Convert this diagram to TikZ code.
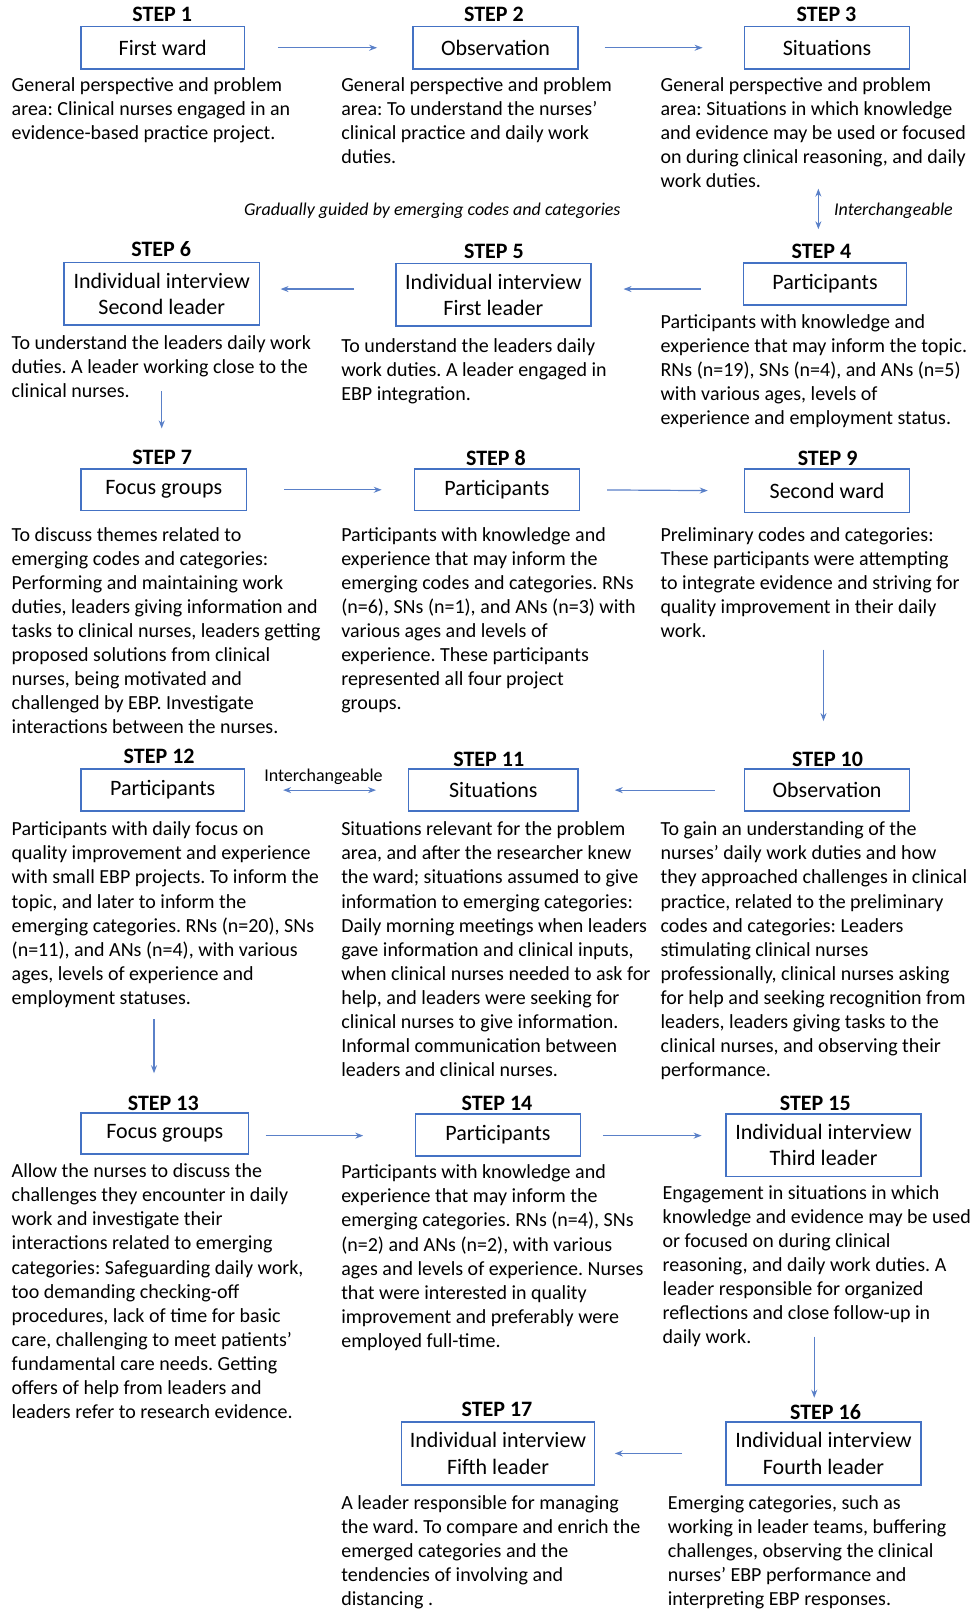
\documentclass[tikz,border=0pt]{standalone}
\usepackage{fontspec}
\setmainfont{Carlito}
\frenchspacing
\usetikzlibrary{arrows.meta}
\definecolor{stepblue}{RGB}{68,114,196}
\definecolor{flowblue}{RGB}{90,128,200}
\newlength\dpx
\setlength\dpx{0.5132pt}
\tikzset{
  stepbox/.style={draw=stepblue, line width=0.75pt, minimum width=161\dpx, minimum height=41\dpx, inner sep=1pt, align=center, font=\fontsize{11}{13}\selectfont},
  leaderbox/.style={stepbox, minimum width=190\dpx, minimum height=61\dpx},
  steplabel/.style={font=\bfseries\fontsize{11}{13}\selectfont, inner sep=0pt},
  desc/.style={anchor=north west, inner sep=0pt, align=left, font=\fontsize{10}{12.05}\selectfont},
  note/.style={font=\fontsize{9}{11}\selectfont, inner sep=0pt},
  flow/.style={draw=flowblue, line width=0.6pt, -{Stealth[length=4pt,width=3pt]}},
}

\begin{document}
\begin{tikzpicture}[x=\dpx, y=-\dpx]
\useasboundingbox (0,0) rectangle (948,1568);
\coordinate (r2) at (0,281.5);
\coordinate (r5) at (0,1106);

% Step 1
\node[steplabel] (l1) at (158,14) {STEP 1};
\node[stepbox, minimum width=159\dpx] (s1) at (158.5,46.5) {First ward};
\node[desc] (d1) at (11,75) {General perspective and problem\\area: Clinical nurses engaged in an\\evidence-based practice project.};

% Step 2
\node[steplabel] (l2) at (481,14) {STEP 2};
\node[stepbox] (s2) at (482.5,46.5) {Observation};
\node[desc] (d2) at (332,75) {General perspective and problem\\area: To understand the nurses’\\clinical practice and daily work\\duties.};

% Step 3
\node[steplabel] (l3) at (805,14) {STEP 3};
\node[stepbox] (s3) at (805.5,46.5) {Situations};
\node[desc] (d3) at (643,75) {General perspective and problem\\area: Situations in which knowledge\\and evidence may be used or focused\\on during clinical reasoning, and daily\\work duties.};

\node[note, font=\itshape\fontsize{9}{11}\selectfont] (gradual) at (421,205) {Gradually guided by emerging codes and categories};
\node[note, font=\itshape\fontsize{9}{11}\selectfont, anchor=west] (swap34) at (812,205) {Interchangeable};

% Step 4
\node[steplabel] (l4) at (800,245) {STEP 4};
\node[stepbox, minimum width=159\dpx] (s4) at (803.5,276.5) {Participants};
\node[desc] (d4) at (643,306) {Participants with knowledge and\\experience that may inform the topic.\\RNs (n=19), SNs (n=4), and ANs (n=5)\\with various ages, levels of\\experience and employment status.};

% Step 5
\node[steplabel] (l5) at (481,245) {STEP 5};
\node[leaderbox] (s5) at (480.5,287) {Individual interview\\First leader};
\node[desc] (d5) at (332,329) {To understand the leaders daily\\work duties. A leader engaged in\\EBP integration.};

% Step 6
\node[steplabel] (l6) at (157,243) {STEP 6};
\node[leaderbox] (s6) at (157.5,286) {Individual interview\\Second leader};
\node[desc] (d6) at (11,326) {To understand the leaders daily work\\duties. A leader working close to the\\clinical nurses.};

% Step 7
\node[steplabel] (l7) at (158,445) {STEP 7};
\node[stepbox, minimum height=40\dpx] (s7) at (159.5,477) {Focus groups};
\node[desc] (d7) at (11,513) {To discuss themes related to\\emerging codes and categories:\\Performing and maintaining work\\duties, leaders giving information and\\tasks to clinical nurses, leaders getting\\proposed solutions from clinical\\nurses, being motivated and\\challenged by EBP. Investigate\\interactions between the nurses.};

% Step 8
\node[steplabel] (l8) at (483,446) {STEP 8};
\node[stepbox, minimum height=40\dpx] (s8) at (484,477) {Participants};
\node[desc] (d8) at (332,513) {Participants with knowledge and\\experience that may inform the\\emerging codes and categories. RNs\\(n=6), SNs (n=1), and ANs (n=3) with\\various ages and levels of\\experience. These participants\\represented all four project\\groups.};

% Step 9
\node[steplabel] (l9) at (806,446) {STEP 9};
\node[stepbox, minimum height=42\dpx] (s9) at (805.5,478) {Second ward};
\node[desc] (d9) at (643,513) {Preliminary codes and categories:\\These participants were attempting\\to integrate evidence and striving for\\quality improvement in their daily\\work.};

% Step 10
\node[steplabel] (l10) at (806,740) {STEP 10};
\node[stepbox] (s10) at (805.5,769.5) {Observation};
\node[desc] (d10) at (643,800) {To gain an understanding of the\\nurses’ daily work duties and how\\they approached challenges in clinical\\practice, related to the preliminary\\codes and categories: Leaders\\stimulating clinical nurses\\professionally, clinical nurses asking\\for help and seeking recognition from\\leaders, leaders giving tasks to the\\clinical nurses, and observing their\\performance.};

% Step 11
\node[steplabel] (l11) at (476,740) {STEP 11};
\node[stepbox, minimum width=165\dpx] (s11) at (480.5,769.5) {Situations};
\node[desc] (d11) at (332,800) {Situations relevant for the problem\\area, and after the researcher knew\\the ward; situations assumed to give\\information to emerging categories:\\Daily morning meetings when leaders\\gave information and clinical inputs,\\when clinical nurses needed to ask for\\help, and leaders were seeking for\\clinical nurses to give information.\\Informal communication between\\leaders and clinical nurses.};

% Step 12
\node[steplabel] (l12) at (155,737) {STEP 12};
\node[stepbox, minimum width=159\dpx] (s12) at (158.5,769.5) {Participants};
\node[desc] (d12) at (11,800) {Participants with daily focus on\\quality improvement and experience\\with small EBP projects. To inform the\\topic, and later to inform the\\emerging categories. RNs (n=20), SNs\\(n=11), and ANs (n=4), with various\\ages, levels of experience and\\employment statuses.};
\node[note] (swap1211) at (315,757) {Interchangeable};

% Step 13
\node[steplabel] (l13) at (159,1075) {STEP 13};
\node[stepbox, minimum width=163\dpx, minimum height=40\dpx] (s13) at (160.5,1104) {Focus groups};
\node[desc] (d13) at (11,1133) {Allow the nurses to discuss the\\challenges they encounter in daily\\work and investigate their\\interactions related to emerging\\categories: Safeguarding daily work,\\too demanding checking-off\\procedures, lack of time for basic\\care, challenging to meet patients’\\fundamental care needs. Getting\\offers of help from leaders and\\leaders refer to research evidence.};

% Step 14
\node[steplabel] (l14) at (484,1075) {STEP 14};
\node[stepbox] (s14) at (485,1105.5) {Participants};
\node[desc] (d14) at (332,1134) {Participants with knowledge and\\experience that may inform the\\emerging categories. RNs (n=4), SNs\\(n=2) and ANs (n=2), with various\\ages and levels of experience. Nurses\\that were interested in quality\\improvement and preferably were\\employed full-time.};

% Step 15
\node[steplabel] (l15) at (794,1075) {STEP 15};
\node[leaderbox] (s15) at (802,1115.5) {Individual interview\\Third leader};
\node[desc] (d15) at (645,1154) {Engagement in situations in which\\knowledge and evidence may be used\\or focused on during clinical\\reasoning, and daily work duties. A\\leader responsible for organized\\reflections and close follow-up in\\daily work.};

% Step 16
\node[steplabel] (l16) at (804,1375) {STEP 16};
\node[leaderbox] (s16) at (802,1415.5) {Individual interview\\Fourth leader};
\node[desc] (d16) at (650,1456) {Emerging categories, such as\\working in leader teams, buffering\\challenges, observing the clinical\\nurses’ EBP performance and\\interpreting EBP responses.};

% Step 17
\node[steplabel] (l17) at (484,1373) {STEP 17};
\node[leaderbox, minimum width=188\dpx] (s17) at (485,1415.5) {Individual interview\\Fifth leader};
\node[desc] (d17) at (332,1456) {A leader responsible for managing\\the ward. To compare and enrich the\\emerged categories and the\\tendencies of involving and\\distancing .};

% Arrows
\draw[flow, shorten <=32\dpx, shorten >=34\dpx] (s1.east) -- (s2.west);
\draw[flow, shorten <=25\dpx, shorten >=40\dpx] (s2.east) -- (s3.west);
\draw[flow, {Stealth[length=4pt,width=3pt]}-{Stealth[length=4pt,width=3pt]}, shorten <=116\dpx, shorten >=32\dpx] ([xshift=-8.5\dpx]s3.south) -- ([xshift=-6.5\dpx]s4.north);
\draw[flow, shorten <=41\dpx, shorten >=31\dpx] (s4.west |- r2) -- (s5.east |- r2);
\draw[flow, shorten <=40\dpx, shorten >=20\dpx] (s5.west |- r2) -- (s6.east |- r2);
\draw[flow, shorten <=64\dpx, shorten >=39\dpx] (s6.south) -- (s6.south |- s7.north);
\draw[flow, shorten <=36\dpx, shorten >=31\dpx] (s7.east) -- (s8.west);
\draw[flow, shorten <=26\dpx, shorten >=35\dpx] (s8.east) -- (s9.west);
\draw[flow, shorten <=133\dpx, shorten >=46\dpx] ([xshift=-3.5\dpx]s9.south) -- ([xshift=-3.5\dpx]s10.north);
\draw[flow, shorten <=28\dpx, shorten >=35\dpx] (s10.west) -- (s11.east);
\draw[flow, {Stealth[length=4pt,width=3pt]}-{Stealth[length=4pt,width=3pt]}, shorten <=37\dpx, shorten >=31\dpx] (s12.east) -- (s11.west);
\draw[flow, shorten <=202\dpx, shorten >=38\dpx] ([xshift=-8.5\dpx]s12.south) -- ([xshift=-10.5\dpx]s13.north);
\draw[flow, shorten <=16\dpx, shorten >=50\dpx] (s13.east |- r5) -- (s14.west |- r5);
\draw[flow, shorten <=21\dpx, shorten >=23\dpx] (s14.east |- r5) -- (s15.west |- r5);
\draw[flow, shorten <=155\dpx, shorten >=23\dpx] ([xshift=-9\dpx]s15.south) -- ([xshift=-9\dpx]s16.north);
\draw[flow, shorten <=42\dpx, shorten >=19\dpx] (s16.west) -- (s17.east);
\end{tikzpicture}
\end{document}
